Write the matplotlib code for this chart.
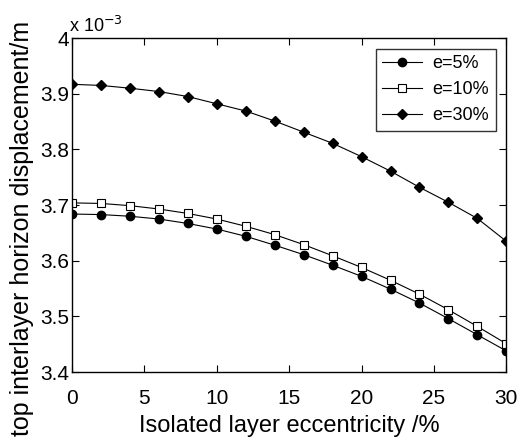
import matplotlib
matplotlib.use('Agg')
import matplotlib.pyplot as plt

plt.rcParams['font.family'] = ['Liberation Sans', 'DejaVu Sans']

# eccentricity of the isolated layer (%)
ecc = [0, 2, 4, 6, 8, 10, 12, 14, 16, 18, 20, 22, 24, 26, 28, 30]

# displacement values, in units of 1e-3 m
e5 = [3.684, 3.683, 3.680, 3.675, 3.667, 3.657, 3.644, 3.628, 3.611, 3.592,
      3.572, 3.549, 3.524, 3.496, 3.467, 3.438]
e10 = [3.704, 3.703, 3.699, 3.693, 3.685, 3.675, 3.662, 3.647, 3.629, 3.609,
       3.588, 3.565, 3.540, 3.512, 3.482, 3.451]
e30 = [3.917, 3.915, 3.910, 3.904, 3.895, 3.882, 3.869, 3.851, 3.831, 3.811,
       3.787, 3.761, 3.732, 3.705, 3.676, 3.635]

fig = plt.figure(figsize=(5.22, 4.43), dpi=100)
ax = fig.add_axes([0.138, 0.160, 0.832, 0.754])

ax.plot(ecc, e5, color='black', lw=0.8, marker='o', ms=6, mfc='black', label='e=5%')
ax.plot(ecc, e10, color='black', lw=0.8, marker='s', ms=6, mfc='white', mew=0.8, label='e=10%')
ax.plot(ecc, e30, color='black', lw=0.8, marker='D', ms=5, mfc='black', label='e=30%')

ax.set_xlim(0, 30)
ax.set_ylim(3.4, 4.0)
ax.set_xticks([0, 5, 10, 15, 20, 25, 30])
ax.set_yticks([3.4, 3.5, 3.6, 3.7, 3.8, 3.9, 4.0])
ax.set_yticklabels(['3.4', '3.5', '3.6', '3.7', '3.8', '3.9', '4'])
ax.tick_params(direction='in', top=True, right=True, labelsize=15, length=5, width=0.8)
ax.tick_params(axis='y', pad=2)
ax.tick_params(axis='x', pad=12)
for s in ax.spines.values():
    s.set_linewidth(1.0)

ax.set_xlabel('Isolated layer eccentricity /%', fontsize=17, labelpad=5)
ax.set_ylabel('top interlayer horizon displacement/m', fontsize=18)
ax.yaxis.set_label_coords(-0.088, 0.43)
ax.text(-0.007, 1.018, 'x 10$^{-3}$', transform=ax.transAxes, fontsize=13, va='baseline')

leg = ax.legend(loc='upper right', fontsize=13, frameon=True, fancybox=False,
                edgecolor='black', borderaxespad=0.6, handlelength=2.2,
                borderpad=0.35, handletextpad=0.6)
leg.get_frame().set_linewidth(1.0)

fig.savefig('out.png', dpi=100)
